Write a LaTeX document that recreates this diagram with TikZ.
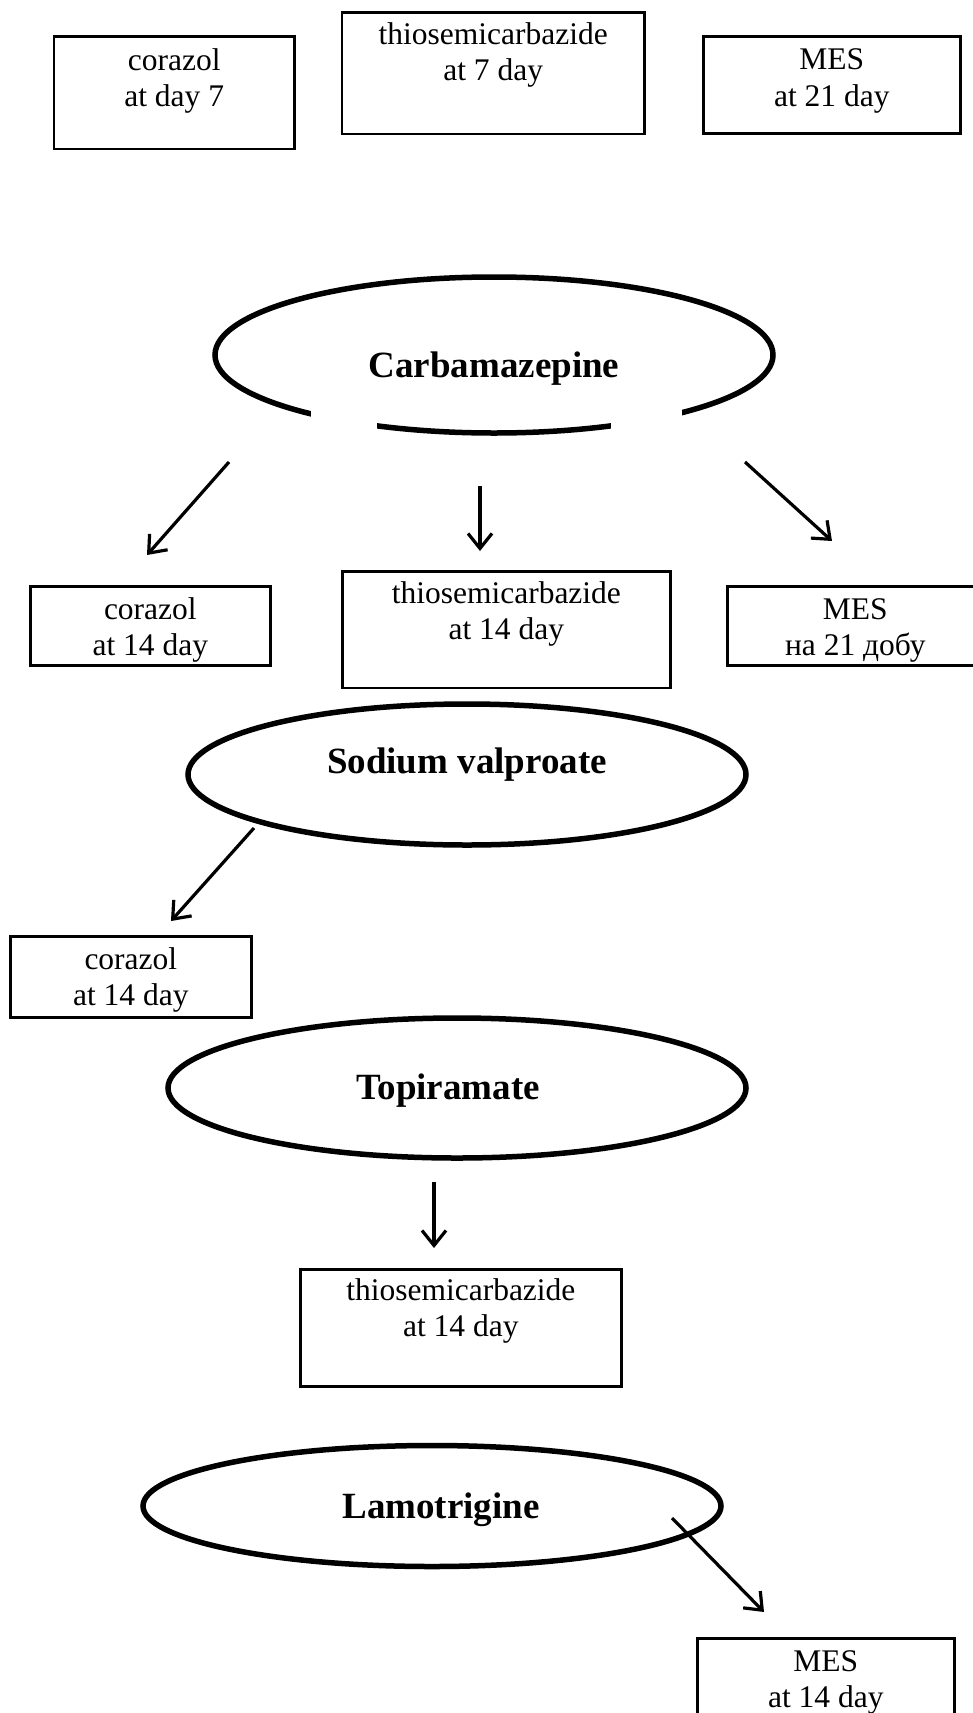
\documentclass[tikz,border=0pt]{standalone}
\usepackage{fontspec}
\setmainfont{Liberation Serif}
\usetikzlibrary{arrows.meta,shapes.geometric}
\newcommand{\bxtext}[4]{\parbox[t][#2][t]{#1}{\centering\rule{0pt}{#3}#4}}
\begin{document}
\begin{tikzpicture}[x=1pt,y=-1pt,
  bx/.style={draw, line width=2.7pt, inner sep=0pt, anchor=north west, font=\fontsize{31.5}{36.5}\selectfont},
  ell/.style={ellipse, draw, line width=5.5pt, inner sep=0pt, font=\bfseries\fontsize{37}{40}\selectfont},
  arr/.style={line width=3.2pt, -{Straight Barb[length=15pt,width=24pt]}}]
\clip (0,0) rectangle (973,1713);
\fill[white] (0,0) rectangle (973,1713);

% top row
\node[bx] (b1) at (52.7,35) {\bxtext{240.3pt}{112.7pt}{34pt}{corazol\\at day 7}};
\node[bx] (b2) at (340.7,11) {\bxtext{302.3pt}{121.7pt}{32pt}{thiosemicarbazide\\at 7 day}};
\node[bx] (b3) at (702,35) {\bxtext{257pt}{97pt}{33.5pt}{MES\\at 21 day}};

% Carbamazepine
\node[ell, minimum width=558pt, minimum height=156pt, text height=60pt, text depth=16pt] (carb) at (494,355) {Carbamazepine};
\fill[white] (311,398) rectangle (377,445);
\fill[white] (611,398) rectangle (682,445);

\coordinate (c1s) at (229,462); \coordinate (c1e) at (147,555);
\coordinate (c2s) at (480,486); \coordinate (c2e) at (480,551);
\coordinate (c3s) at (745,462); \coordinate (c3e) at (832,541);
\draw[arr] (c1s) -- (c1e);
\draw[arr] (c2s) -- (c2e);
\draw[arr] (c3s) -- (c3e);

% second row
\node[bx] (r1) at (29,585) {\bxtext{240pt}{79pt}{33pt}{corazol\\at 14 day}};
\node[bx] (r2) at (341,570) {\bxtext{328pt}{116.7pt}{31.7pt}{thiosemicarbazide\\at 14 day}};
\node[bx] (r3) at (726,585) {\bxtext{256pt}{79pt}{33pt}{MES\\на 21 добу}};

% Sodium valproate
\node[ell, minimum width=558pt, minimum height=141pt, text height=28pt, text depth=31pt] (sod) at (467,774.5) {Sodium valproate};
\coordinate (s1s) at (254,828); \coordinate (s1e) at (171,921);
\draw[arr] (s1s) -- (s1e);
\node[bx] (sb) at (9,935) {\bxtext{241pt}{81pt}{33pt}{corazol\\at 14 day}};

% Topiramate
\node[ell, minimum width=578pt, minimum height=140pt, text height=40pt, text depth=18pt] (top) at (457,1088) {\hspace*{-18pt}Topiramate};
\coordinate (t1s) at (434,1182); \coordinate (t1e) at (434,1248);
\draw[arr] (t1s) -- (t1e);
\node[bx] (tb) at (299,1268) {\bxtext{321pt}{117pt}{31pt}{thiosemicarbazide\\at 14 day}};

% Lamotrigine
\node[ell, minimum width=578pt, minimum height=121pt, text height=42pt, text depth=18pt] (lam) at (432,1506) {Lamotrigine\hspace*{-18pt}};
\coordinate (l1s) at (672,1518); \coordinate (l1e) at (764,1612);
\draw[arr] (l1s) -- (l1e);
\node[bx] (lb) at (696,1637) {\bxtext{257pt}{110pt}{33pt}{MES\\at 14 day}};
\end{tikzpicture}
\end{document}
